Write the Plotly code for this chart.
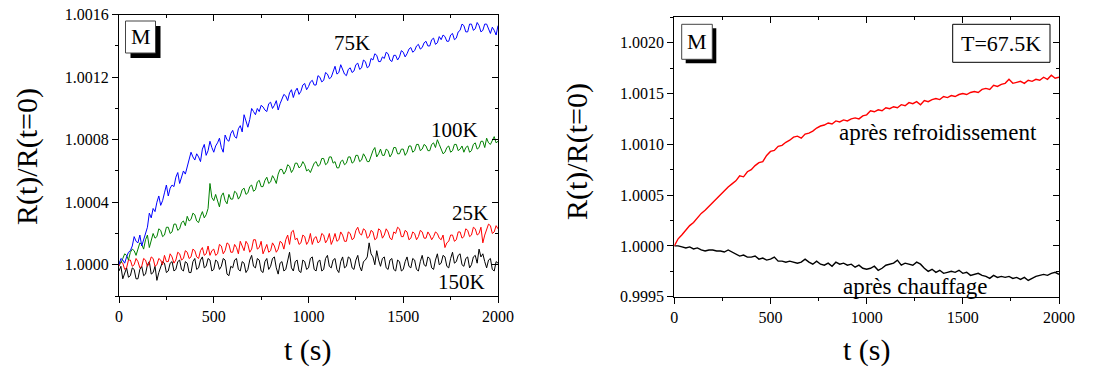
import plotly.graph_objects as go

# time axes (s)
t_left = list(range(0, 2001, 10))
t_right = list(range(0, 2001, 20))

# Left panel: deviation of R(t)/R(t=0) from 1, in units of 1e-4 (one row = 200 s)
dev_75K = [0.0, 0.4, 0.3, 0.1, 0.5, 0.8, 0.9, 1.2, 1.8, 1.5, 1.4, 1.9, 1.2, 1.6, 2.1, 2.4, 3.3, 3.0, 3.6, 3.4,
           4.0, 4.4, 3.8, 4.1, 4.6, 5.1, 4.4, 4.9, 5.1, 5.0, 5.6, 5.9, 5.2, 5.7, 6.0, 5.8, 6.3, 6.6, 7.2, 6.9,
           6.7, 7.1, 6.9, 6.6, 7.4, 7.7, 7.0, 7.3, 7.9, 7.5, 7.2, 7.6, 7.8, 8.1, 7.5, 7.2, 8.3, 8.0, 7.9, 8.4,
           8.6, 8.2, 8.1, 8.7, 8.9, 8.5, 9.6, 9.2, 8.8, 9.3, 10.0, 9.8, 9.6, 10.0, 9.8, 10.2, 10.1, 9.9, 9.8, 10.3,
           10.4, 10.0, 10.2, 10.5, 9.9, 10.3, 10.6, 10.9, 10.8, 10.5, 11.0, 11.2, 10.7, 11.1, 11.3, 10.9, 11.1, 11.5, 11.6, 11.2,
           11.4, 11.7, 11.8, 11.5, 11.5, 12.1, 12.0, 11.7, 11.8, 12.3, 12.2, 11.9, 12.0, 12.4, 12.7, 12.2, 12.3, 12.8, 12.5, 12.2,
           12.1, 12.5, 12.6, 12.3, 12.4, 12.8, 12.9, 12.5, 12.6, 13.1, 13.0, 12.6, 12.7, 13.2, 13.1, 13.5, 13.4, 13.0, 13.0, 13.3,
           13.2, 13.6, 13.5, 13.1, 13.0, 13.4, 13.4, 13.1, 13.3, 13.7, 13.6, 13.3, 13.5, 13.8, 13.9, 13.6, 13.7, 14.0, 14.1, 13.8,
           13.9, 14.2, 14.3, 14.0, 14.0, 14.4, 14.5, 14.1, 14.2, 14.6, 14.4, 14.7, 14.6, 14.3, 14.3, 14.7, 14.8, 14.4, 14.5, 14.9,
           15.0, 15.4, 15.3, 14.9, 14.9, 15.4, 15.4, 15.0, 15.1, 15.5, 15.3, 14.9, 15.0, 15.4, 15.4, 15.1, 14.8, 15.2, 15.0, 14.7,
           15.3]
dev_100K = [0.2, 0.1, 0.4, 0.7, 0.6, 0.3, 0.8, 1.0, 0.9, 0.6, 1.0, 1.4, 1.3, 1.0, 1.6, 1.9, 1.1, 1.5, 2.0, 1.7,
            1.8, 2.3, 2.2, 1.8, 1.9, 2.4, 2.4, 2.0, 2.1, 2.6, 2.6, 2.2, 2.3, 2.7, 2.8, 2.5, 3.1, 2.8, 2.9, 3.3,
            3.2, 2.8, 2.7, 3.1, 3.4, 3.0, 3.2, 3.6, 5.2, 4.3, 4.1, 4.5, 4.0, 3.7, 4.4, 4.6, 4.1, 3.9, 4.5, 4.2,
            4.2, 4.7, 4.6, 4.2, 4.4, 4.8, 4.9, 4.5, 4.6, 5.0, 5.1, 4.7, 4.8, 5.3, 5.4, 5.0, 5.0, 5.4, 5.6, 5.2,
            5.3, 5.7, 5.5, 5.2, 5.8, 6.1, 6.1, 5.8, 6.0, 6.4, 6.3, 5.9, 6.1, 6.5, 6.5, 6.2, 6.3, 6.6, 6.4, 6.0,
            6.1, 5.9, 6.2, 6.5, 6.6, 6.3, 6.4, 6.8, 6.8, 6.4, 6.5, 6.9, 6.9, 6.5, 6.6, 6.2, 6.2, 6.6, 6.7, 6.4,
            6.5, 6.9, 6.9, 6.5, 6.6, 7.0, 7.0, 6.6, 6.7, 7.1, 6.9, 6.6, 6.6, 7.0, 7.3, 7.5, 6.9, 7.1, 7.4, 7.0,
            7.0, 7.4, 7.3, 6.9, 7.1, 7.5, 7.5, 7.1, 7.1, 7.4, 7.4, 7.0, 7.2, 7.6, 7.6, 7.2, 7.3, 7.7, 7.7, 7.3,
            7.4, 7.7, 7.6, 7.3, 7.3, 7.7, 7.8, 7.5, 8.0, 7.7, 7.4, 7.1, 7.2, 7.5, 7.6, 7.2, 7.3, 7.7, 7.7, 7.3,
            7.4, 7.6, 7.2, 7.5, 7.6, 7.2, 7.3, 7.7, 7.8, 7.4, 7.5, 7.9, 7.9, 7.5, 8.1, 7.8, 7.7, 8.0, 8.2, 7.8,
            7.9]
dev_25K = [-0.1, 0.2, 0.1, -0.3, -0.2, 0.3, 0.3, -0.1, 0.0, 0.4, 0.2, -0.2, -0.1, 0.4, 0.3, -0.1, 0.1, 0.5, 0.4, -0.1,
           0.0, 0.4, 0.3, 0.0, 0.6, 0.2, 0.2, 0.7, 0.5, 0.1, 0.3, 0.8, 0.7, 0.3, 0.4, 0.9, 0.8, 0.4, 0.5, 1.0,
           0.9, 0.5, 0.4, 0.9, 1.1, 0.6, 0.7, 1.2, 0.6, 0.9, 1.0, 0.6, 0.7, 1.3, 1.2, 0.7, 0.9, 1.4, 1.3, 0.8,
           0.8, 1.3, 1.1, 0.7, 1.5, 1.2, 0.9, 1.5, 1.3, 0.8, 1.0, 1.6, 1.6, 1.0, 1.1, 1.5, 0.7, 1.0, 1.3, 0.8,
           0.9, 1.4, 1.2, 0.8, 1.0, 1.5, 1.4, 1.0, 1.6, 1.9, 1.3, 2.1, 2.2, 1.6, 1.7, 1.3, 1.4, 1.9, 1.8, 1.3,
           1.5, 2.0, 1.3, 1.7, 1.8, 1.4, 1.5, 2.0, 1.9, 1.4, 1.6, 2.0, 1.3, 1.6, 2.0, 1.5, 1.6, 2.1, 1.9, 1.5,
           1.5, 2.1, 2.0, 1.6, 1.7, 2.2, 2.4, 2.0, 1.9, 2.3, 2.2, 1.7, 1.8, 2.2, 2.1, 1.6, 1.7, 2.3, 2.2, 1.7,
           1.9, 2.3, 2.1, 1.7, 1.6, 2.1, 2.0, 2.4, 2.3, 1.8, 1.8, 2.2, 2.1, 1.6, 1.7, 2.1, 2.0, 1.6, 1.8, 2.2,
           2.1, 1.7, 1.7, 2.1, 1.9, 1.6, 1.8, 2.1, 2.0, 1.7, 1.6, 1.9, 1.1, 1.4, 1.5, 1.9, 1.9, 1.5, 1.6, 2.1,
           2.1, 1.7, 1.8, 2.3, 2.2, 1.8, 1.9, 2.4, 2.3, 1.9, 2.0, 2.4, 1.4, 1.9, 2.2, 2.6, 2.5, 2.0, 2.1, 2.5,
           2.3]
dev_150K = [-0.4, -0.1, -0.9, -0.5, -0.2, -0.8, -0.7, -0.2, -0.3, -0.9, -0.9, -0.3, -0.1, -0.7, -0.6, 0.0, 0.2, -0.6, -0.5, -0.1,
            -1.0, -0.5, -0.2, 0.2, 0.1, -0.5, -0.4, 0.1, 0.2, -0.4, -0.3, 0.2, 0.3, -0.3, -0.4, 0.2, 0.1, -0.5, -0.5, 0.2,
            0.4, -0.3, -0.2, 0.3, 0.5, -0.2, -0.1, 0.4, 0.3, -0.4, -0.3, 0.3, 0.2, -0.3, -0.1, 0.4, 0.3, -0.6, -0.7, -0.1,
            -0.2, 0.3, 0.4, -0.3, -0.4, 0.2, 0.1, -0.5, -0.3, 0.3, 0.6, -0.1, -0.2, 0.4, 0.3, -0.4, -0.5, 0.2, 0.4, -0.3,
            -0.1, 0.4, 0.5, -0.2, -0.6, 0.1, 0.2, -0.4, -0.3, 0.3, 0.8, -0.2, -0.4, 0.2, 0.3, -0.4, -0.5, 0.3, 0.2, -0.3,
            -0.2, 0.4, 0.5, -0.3, -0.4, 0.2, 0.3, -0.4, -0.3, 0.4, 0.6, -0.1, -0.2, 0.3, 0.4, -0.3, -0.5, 0.2, 0.5, -0.2,
            -0.1, 0.5, 0.4, -0.2, -0.3, 0.3, 0.6, -0.1, -0.4, 0.2, 0.3, 0.5, 1.4, 0.7, 0.5, 0.0, 0.9, 0.3, -0.1, 0.4,
            0.5, -0.2, -0.3, 0.3, 0.4, -0.3, -0.4, 0.3, 0.2, -0.4, -0.3, 0.2, 0.5, -0.1, -0.2, 0.4, 0.3, -0.3, -0.4, 0.2,
            0.6, 0.0, -0.1, 0.5, 0.4, -0.2, -0.3, 0.3, 0.7, 0.0, 0.1, 0.6, 0.5, -0.1, -0.2, 0.4, 0.8, 0.1, 0.2, 0.6,
            0.7, 0.0, -0.1, 0.4, 0.5, -0.2, 0.0, 0.5, 0.6, 0.1, 1.0, 0.5, 0.7, 0.2, -0.2, 0.3, 0.4, -0.3, -0.4, 0.2,
            0.1]

# Right panel (T = 67.5K), deviation in units of 1e-4
dev_refroid = [0.0, 0.7, 1.1, 1.6, 2.0, 2.3, 2.8, 3.2, 3.5, 3.9, 4.3, 4.7, 5.0, 5.4, 5.8, 6.1, 6.4, 6.9, 6.8, 7.3,
               7.5, 7.9, 8.2, 8.3, 8.9, 9.3, 9.4, 9.8, 9.9, 10.2, 10.4, 10.7, 10.8, 10.6, 11.0, 11.1, 11.3, 11.6, 11.8, 11.9,
               12.1, 12.0, 12.3, 12.2, 12.4, 12.3, 12.5, 12.6, 12.5, 12.8, 12.9, 13.3, 13.2, 13.4, 13.3, 13.6, 13.5, 13.7, 13.6, 13.9,
               13.8, 14.1, 14.0, 14.2, 13.9, 14.3, 14.2, 14.4, 14.5, 14.4, 14.7, 14.6, 14.8, 14.7, 14.9, 15.0, 14.9, 15.1, 15.2, 15.1,
               15.4, 15.5, 15.4, 15.8, 15.7, 15.9, 16.0, 16.4, 16.0, 16.1, 16.2, 16.0, 16.3, 16.2, 16.4, 16.3, 16.6, 16.4, 16.8, 16.5,
               16.6]
dev_chauff = [0.0, 0.0, -0.1, -0.2, -0.1, -0.3, -0.2, -0.4, -0.5, -0.4, -0.4, -0.5, -0.5, -0.6, -0.4, -0.6, -0.8, -1.0, -0.9, -1.1,
              -1.1, -1.0, -1.3, -1.2, -1.4, -1.3, -1.1, -1.5, -1.5, -1.6, -1.5, -1.6, -1.7, -1.6, -1.3, -1.6, -1.8, -1.5, -1.8, -1.9,
              -1.7, -2.0, -1.6, -1.8, -1.7, -1.9, -1.8, -2.1, -1.9, -2.2, -2.3, -2.2, -2.0, -2.4, -2.2, -1.9, -1.8, -1.7, -1.4, -1.9,
              -1.7, -1.8, -1.9, -1.6, -1.8, -2.2, -2.5, -2.3, -2.6, -2.4, -2.7, -2.6, -2.5, -2.6, -2.4, -2.7, -2.6, -2.9, -2.8, -2.7,
              -2.9, -3.0, -3.2, -2.9, -3.1, -3.0, -3.1, -3.0, -3.2, -3.1, -3.3, -3.1, -3.4, -3.2, -3.0, -2.9, -2.8, -2.9, -2.7, -2.6,
              -2.8]

x_ticks = [0, 500, 1000, 1500, 2000]


def ratio(dev):
    return [1.0 + d * 1e-4 for d in dev]


FONT = "Liberation Serif"
W, H = 1110, 371


def px(x):
    return x / W


def py(y):
    return 1 - y / H


fig = go.Figure()
left_series = [(dev_150K, "#000000", "150K"), (dev_25K, "#ff0000", "25K"),
               (dev_100K, "#008000", "100K"), (dev_75K, "#0000ff", "75K")]
for dev, col, name in left_series:
    fig.add_trace(go.Scatter(x=t_left, y=ratio(dev), mode="lines", name=name,
                             line=dict(color=col, width=1), xaxis="x", yaxis="y"))
fig.add_trace(go.Scatter(x=t_right, y=ratio(dev_chauff), mode="lines", name="après chauffage",
                         line=dict(color="#000000", width=1.4), xaxis="x2", yaxis="y2"))
fig.add_trace(go.Scatter(x=t_right, y=ratio(dev_refroid), mode="lines", name="après refroidissement",
                         line=dict(color="#ff0000", width=1.4), xaxis="x2", yaxis="y2"))
# invisible traces to activate the mirrored (top/right) tick axes
fig.add_trace(go.Scatter(x=[None], y=[None], xaxis="x3", yaxis="y3", showlegend=False))
fig.add_trace(go.Scatter(x=[None], y=[None], xaxis="x4", yaxis="y4", showlegend=False))

tickfont = dict(family=FONT, size=16, color="black")
dx1 = [px(119), px(498)]
dx2 = [px(674.3), px(1059)]
dy1 = [py(296), py(14.7)]
dy2 = [py(296.7), py(17.3)]
yr1 = [0.9998, 1.0016]
yr2 = [0.9995, 1.00225]


def xax(domain, anchor):
    return dict(domain=domain, anchor=anchor, range=[0, 2000], showgrid=False, zeroline=False,
                automargin=False, showline=True, linecolor="black", linewidth=1.2, mirror=True,
                ticks="outside", ticklen=6, tickwidth=1, tickcolor="black",
                tickvals=x_ticks, tickfont=tickfont,
                minor=dict(dtick=250, tick0=0, ticks="outside", ticklen=3, tickcolor="black"))


def yax(domain, anchor, rng, dt):
    return dict(domain=domain, anchor=anchor, range=rng, showgrid=False, zeroline=False,
                automargin=False, showline=True, linecolor="black", linewidth=1.2, mirror=True,
                ticks="outside", ticklen=6, tickwidth=1, tickcolor="black",
                tick0=1.0, dtick=dt, tickformat=".4f", tickfont=tickfont,
                minor=dict(dtick=dt / 2, tick0=1.0, ticks="outside", ticklen=3, tickcolor="black"))


def xmirror(domain, anchor, over):
    return dict(domain=domain, overlaying=over, anchor=anchor, side="top", range=[0, 2000],
                showgrid=False, zeroline=False, automargin=False, showticklabels=False,
                ticks="inside", ticklen=6, tickcolor="black", tickvals=x_ticks,
                minor=dict(dtick=250, tick0=0, ticks="inside", ticklen=3, tickcolor="black"))


def ymirror(domain, anchor, over, rng, dt):
    return dict(domain=domain, overlaying=over, anchor=anchor, side="right", range=rng,
                showgrid=False, zeroline=False, automargin=False, showticklabels=False,
                ticks="inside", ticklen=6, tickcolor="black", tick0=1.0, dtick=dt,
                minor=dict(dtick=dt / 2, tick0=1.0, ticks="inside", ticklen=3, tickcolor="black"))


fig.update_layout(
    width=W, height=H,
    margin=dict(l=0, r=0, t=0, b=0, pad=0, autoexpand=False),
    paper_bgcolor="white", plot_bgcolor="white",
    showlegend=False,
    font=dict(family=FONT, color="black"),
    xaxis=xax(dx1, "y"),
    yaxis=yax(dy1, "x", yr1, 0.0004),
    xaxis2=xax(dx2, "y2"),
    yaxis2=yax(dy2, "x2", yr2, 0.0005),
    xaxis3=xmirror(dx1, "y3", "x"),
    yaxis3=ymirror(dy1, "x3", "y", yr1, 0.0004),
    xaxis4=xmirror(dx2, "y4", "x2"),
    yaxis4=ymirror(dy2, "x4", "y2", yr2, 0.0005),
)

ann = []
# axis titles
for cx in [308, 867]:
    ann.append(dict(x=px(cx), y=py(350), xref="paper", yref="paper", text="t (s)", showarrow=False,
                    font=dict(family=FONT, size=30), xanchor="center", yanchor="middle"))
for cx, cy in [(27, 157), (577, 152)]:
    ann.append(dict(x=px(cx), y=py(cy), xref="paper", yref="paper", text="R(t)/R(t=0)", showarrow=False,
                    textangle=-90, font=dict(family=FONT, size=30), xanchor="center", yanchor="middle"))

# curve labels
labels = [(352, 43, "75K", 21), (454, 130, "100K", 21), (470, 213, "25K", 21), (461, 282, "150K", 21),
          (938, 133, "après refroidissement", 23), (915, 286, "après chauffage", 23)]
for lx, ly, txt, fs in labels:
    ann.append(dict(x=px(lx), y=py(ly), xref="paper", yref="paper", text=txt, showarrow=False,
                    font=dict(family=FONT, size=fs), xanchor="center", yanchor="middle"))

# "M" boxes with drop shadows and the temperature box
shapes = []
for (x0, y0, x1, y1, off) in [(125.5, 21, 155.5, 53, 5), (681.7, 24.3, 712.3, 59.3, 4)]:
    shapes.append(dict(type="rect", xref="paper", yref="paper", x0=px(x0 + off), x1=px(x1 + off),
                       y0=py(y1 + off), y1=py(y0 + off), fillcolor="black", line=dict(width=0)))
    shapes.append(dict(type="rect", xref="paper", yref="paper", x0=px(x0), x1=px(x1),
                       y0=py(y1), y1=py(y0), fillcolor="white", line=dict(color="#444444", width=1)))
    ann.append(dict(x=px((x0 + x1) / 2), y=py((y0 + y1) / 2), xref="paper", yref="paper", text="M",
                    showarrow=False, font=dict(family=FONT, size=22), xanchor="center", yanchor="middle"))
shapes.append(dict(type="rect", xref="paper", yref="paper", x0=px(952.7), x1=px(1050),
                   y0=py(62.3), y1=py(24.3), fillcolor="white", line=dict(color="black", width=1)))
ann.append(dict(x=px(1001.3), y=py(43.3), xref="paper", yref="paper", text="T=67.5K",
                showarrow=False, font=dict(family=FONT, size=22), xanchor="center", yanchor="middle"))

fig.update_layout(annotations=ann, shapes=shapes)
fig.write_html("out.html", config={"displayModeBar": False},
               post_script="document.body.style.margin='0';document.body.style.padding='0';")
